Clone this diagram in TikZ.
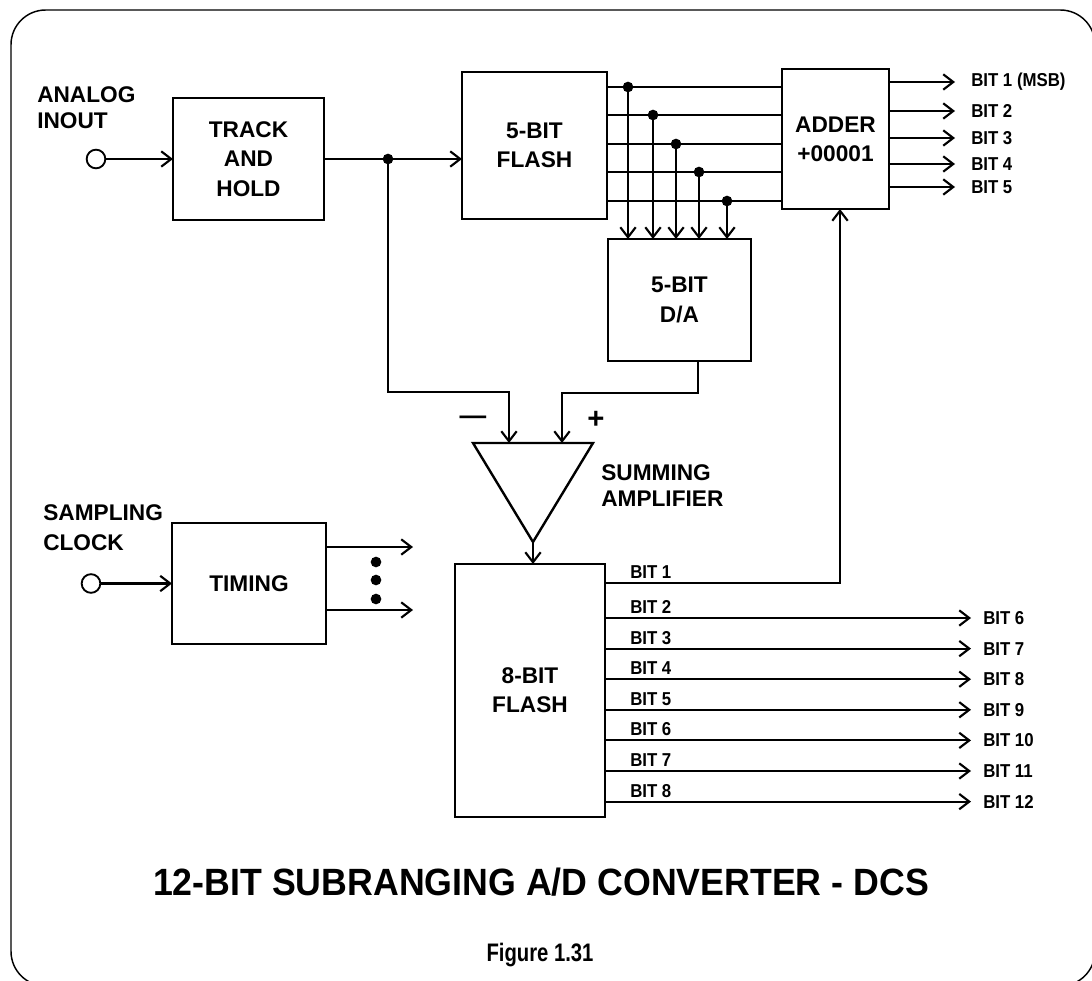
\documentclass[tikz,border=0pt]{standalone}
\usepackage{fontspec}
\setmainfont{Liberation Sans}
\usetikzlibrary{arrows.meta,calc}
\newcommand\lbl{\fontsize{17}{22}\selectfont\bfseries}
\newcommand\sml{\fontsize{14}{16}\selectfont\bfseries\addfontfeatures{FakeStretch=0.9}}
\begin{document}
\begin{tikzpicture}[x=0.75pt,y=-0.75pt,
  box/.style={draw,line width=1.8pt,font=\lbl,align=center,inner sep=0pt,outer sep=0pt},
  wire/.style={line width=1.6pt},
  arr/.style={wire,-{Straight Barb[length=7.5pt,width=11.5pt]}},
  dot/.style={circle,fill,inner sep=0pt,minimum size=8pt},
  port/.style={circle,draw,line width=1.4pt,inner sep=0pt,minimum size=14pt,outer sep=0pt},
  lab/.style={align=left,inner sep=0pt,anchor=west},
  bit/.style={font=\sml,inner sep=0pt,anchor=west}]
\useasboundingbox (0,0) rectangle (1092,981);
\clip (0,0) rectangle (1092,981);
% frame
\draw[line width=1.1pt,rounded corners=26pt] (11,10) rectangle (1095,986);

% blocks
\node[box,minimum width=113.25pt,minimum height=91.5pt] (th) at (248.5,159) {TRACK\\AND\\HOLD};
\node[box,minimum width=108.75pt,minimum height=110.25pt] (f5) at (534.5,145.5) {5-BIT\\FLASH};
\node[box,minimum width=80.25pt,minimum height=105pt] (add) at (835.5,139) {ADDER\\+00001};
\node[box,minimum width=107.25pt,minimum height=91.5pt] (da) at (679.5,300) {5-BIT\\D/A};
\node[box,minimum width=115.5pt,minimum height=90.75pt] (tim) at (249,583.5) {TIMING};
\node[box,minimum width=112.5pt,minimum height=189.75pt] (f8) at (530,690.5) {8-BIT\\FLASH};

% analog input
\node[port] (ain) at (96,159) {};
\node[lab,font={\fontsize{17}{19.5}\selectfont\bfseries}] (ainl) at (37,108) {ANALOG\\INOUT};
\draw[arr] (ain) -- (th);
\node[dot] (j1) at (388,159) {};
\draw[wire] (th) -- (j1.center);
\draw[arr] (j1.center) -- (f5.west |- j1);

% summing amplifier
\coordinate (atl) at (473,443);
\coordinate (atr) at (593,443);
\coordinate (aout) at (533,542);
\coordinate (aminus) at (509,443);
\coordinate (aplus) at (562,443);
\draw[line width=1.8pt,line join=miter] (atl) -- (atr) -- (aout) -- cycle;
\node[lab,font={\fontsize{17}{20}\selectfont\bfseries}] (suml) at (601,485.5) {SUMMING\\AMPLIFIER};
\node[font={\fontsize{20}{20}\selectfont\bfseries},inner sep=0pt,anchor=base] (msign) at (473,424) {—};
\node[font={\fontsize{22}{22}\selectfont\bfseries},inner sep=0pt,anchor=base] (psign) at (596,428) {+};
\draw[arr] (j1.center) -- ++(0,233) -| (aminus);
\draw[arr] ($(da.south)+(18.5,0)$) -- ++(0,32) -| (aplus);
\draw[arr] (aout) -- (aout |- f8.north);

% 5-bit flash outputs and D/A inputs
\foreach \i/\x/\y in {1/628/87,2/653/115,3/676/144,4/699/172,5/727/201}{
  \node[dot] (d\i) at (\x,\y) {};
  \draw[wire] (f5.east |- d\i) -- (add.west |- d\i);
  \draw[arr] (d\i.center) -- (d\i |- da.north);
}

% adder outputs
\foreach \i/\y/\t in {1/82/{BIT 1 (MSB)},2/111/{BIT 2},3/138/{BIT 3},4/164/{BIT 4},5/187/{BIT 5}}{
  \coordinate (ao\i) at (955,\y);
  \draw[arr] (add.east |- ao\i) -- (ao\i);
  \node[bit] (aol\i) at (971,\y) {\t};
}

% 8-bit flash outputs
\draw[arr] (f8.east |- 0,583) -| ($(add.south)+(4.5,0)$);
\node[bit] (fi1) at (630,572) {BIT 1};
\foreach \k/\y/\o in {2/618/6,3/648.6/7,4/679.2/8,5/709.8/9,6/740.4/10,7/771/11,8/801.6/12}{
  \coordinate (fo\k) at (971,\y);
  \draw[arr] (f8.east |- fo\k) -- (fo\k);
  \node[bit] (fi\k) at (630,\y-11) {BIT \k};
  \node[bit] (fl\k) at (983,\y) {BIT \o};
}

% timing
\node[port] (clk) at (91,583.5) {};
\node[lab,font={\fontsize{17}{22.5}\selectfont\bfseries}] (clkl) at (43,528) {SAMPLING\\CLOCK};
\draw[arr] (clk) -- (tim);
\coordinate (t1) at (413,547);
\coordinate (t2) at (413,610);
\draw[arr] (tim.east |- t1) -- (t1);
\draw[arr] (tim.east |- t2) -- (t2);
\node[dot] (td1) at (376,562) {};
\node[dot] (td2) at (376,580) {};
\node[dot] (td3) at (376,599) {};

% title
\node[font={\fontsize{28.5}{32}\selectfont\bfseries\addfontfeatures{FakeStretch=0.94}},inner sep=0pt] (title) at (541,882) {12-BIT SUBRANGING A/D CONVERTER - DCS};
\node[font={\fontsize{19}{22}\selectfont\bfseries\addfontfeatures{FakeStretch=0.8}},inner sep=0pt] (cap) at (540,955) {Figure 1.31};
\end{tikzpicture}
\end{document}
